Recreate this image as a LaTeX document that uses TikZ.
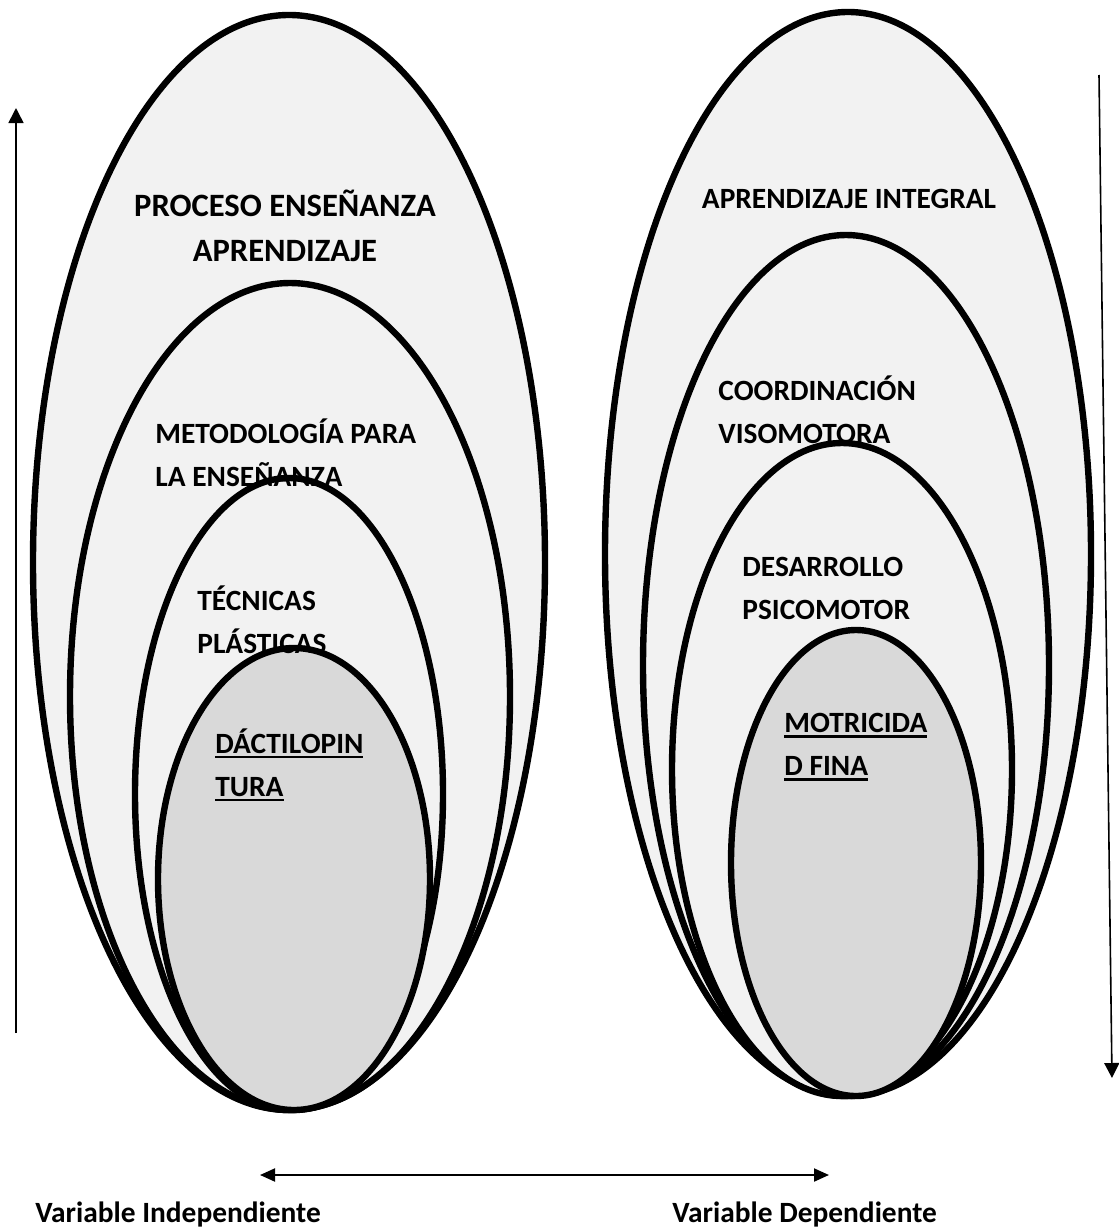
\documentclass[tikz,border=0pt]{standalone}
\usepackage{fontspec}
\setmainfont{Carlito}
\usetikzlibrary{arrows.meta,shapes.geometric}
\definecolor{ringfill}{HTML}{F2F2F2}
\definecolor{corefill}{HTML}{D9D9D9}
\newcommand{\ulbox}[1]{\setbox0\hbox{#1}\rlap{\rule[-2.4pt]{\wd0}{1.3pt}}\box0}

\begin{document}
\begin{tikzpicture}[x=0.5pt,y=-0.5pt]
\tikzset{
  ring/.style={ellipse,draw=black,line width=3.2pt,fill=ringfill,inner sep=0pt,outer sep=0pt},
  core/.style={ring,fill=corefill},
  ringtext/.style={align=left,anchor=west,inner sep=0pt,font=\fontsize{14.7}{21.5}\selectfont\bfseries},
  vartext/.style={anchor=west,inner sep=0pt,font=\fontsize{14.7}{17}\selectfont\bfseries},
  thinarrow/.style={draw=black,line width=0.8pt,-{Triangle[length=7.5pt,width=7.5pt]}},
  bothways/.style={draw=black,line width=1pt,{Triangle[length=7.5pt,width=6.5pt]}-{Triangle[length=7.5pt,width=6.5pt]}}
}
\useasboundingbox (0,0) rectangle (1119,1232);
\node[ring,minimum width=256pt,minimum height=547.5pt] (l_proc) at (289,562.5) {};
\node[ring,minimum width=220pt,minimum height=413.5pt] (l_met) at (290,696.5) {};
\node[ring,minimum width=154pt,minimum height=316pt] (l_tec) at (289,794) {};
\node[core,minimum width=136pt,minimum height=231pt] (l_dac) at (294,879) {};
\node[ring,minimum width=243pt,minimum height=542pt] (r_apr) at (848,554) {};
\node[ring,minimum width=203pt,minimum height=430.5pt] (r_coo) at (846,665.5) {};
\node[ring,minimum width=170pt,minimum height=326.5pt] (r_des) at (842,769.5) {};
\node[core,minimum width=125pt,minimum height=233pt] (r_mot) at (856,863) {};
\node[ringtext,align=center,anchor=center,font=\fontsize{16.3}{22.5}\selectfont\bfseries] (t_proc) at (285,226) {PROCESO ENSEÑANZA\\APRENDIZAJE};
\node[ringtext] (t_met) at (155,453) {METODOLOGÍA PARA\\LA ENSEÑANZA};
\node[ringtext] (t_tec) at (197,620) {TÉCNICAS\\PLÁSTICAS};
\node[ringtext] (t_dac) at (215,765) {\ulbox{DÁCTILOPIN}\\\ulbox{TURA}};
\node[ringtext,anchor=center] (t_apr) at (849,199) {APRENDIZAJE INTEGRAL};
\node[ringtext] (t_coo) at (718,410) {COORDINACIÓN\\VISOMOTORA};
\node[ringtext] (t_des) at (742,588) {DESARROLLO\\PSICOMOTOR};
\node[ringtext] (t_mot) at (784,747) {\ulbox{MOTRICIDA}\\\ulbox{D FINA}};
\node[vartext] (v_ind) at (35,1214) {Variable Independiente};
\node[vartext] (v_dep) at (672,1214) {Variable Dependiente};
\coordinate (up_from) at (16,1033);
\coordinate (up_to) at (16,108);
\coordinate (down_from) at (1099,75);
\coordinate (down_to) at (1112,1078);
\coordinate (mid_left) at (260,1175);
\coordinate (mid_right) at (829,1175);
\draw[thinarrow] (up_from) -- (up_to);
\draw[thinarrow] (down_from) -- (down_to);
\draw[bothways] (mid_left) -- (mid_right);
\end{tikzpicture}
\end{document}
